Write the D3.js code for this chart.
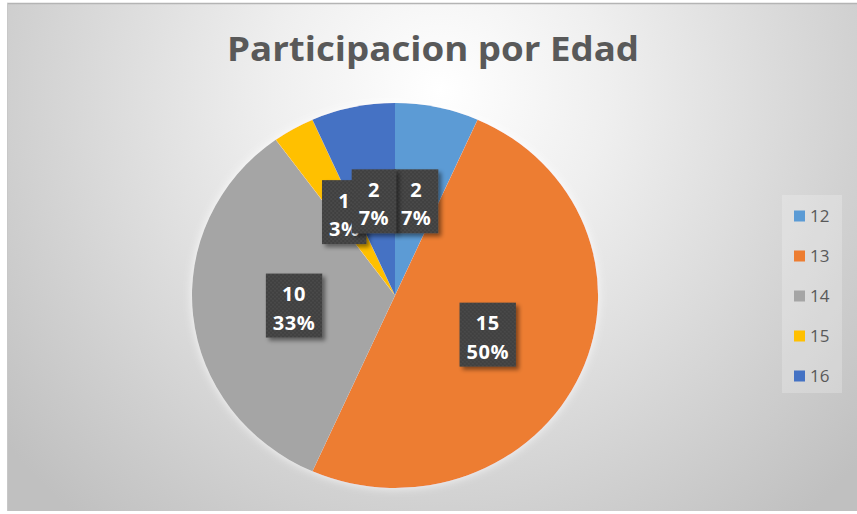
<!DOCTYPE html>
<html>
<head>
<meta charset="utf-8">
<script src="https://cdn.jsdelivr.net/npm/d3@7/dist/d3.min.js"></script>
<style>
  html, body { margin: 0; padding: 0; background: #ffffff; }
  svg { display: block; }
</style>
</head>
<body>
<svg id="chart" width="857" height="514"></svg>
<script>
const title = "Participacion por Edad";
const categories = ["12", "13", "14", "15", "16"];
const values = [2, 15, 10, 1, 2];
const colors = ["#5B9BD5", "#ED7D31", "#A5A5A5", "#FFC000", "#4472C4"];

const W = 857, H = 514;
const svg = d3.select("#chart");
const defs = svg.append("defs");

// background gradient
const rg = defs.append("radialGradient").attr("id", "bg")
  .attr("gradientUnits", "userSpaceOnUse")
  .attr("cx", 440).attr("cy", 90).attr("r", 560).attr("fx", 440).attr("fy", 90);
rg.append("stop").attr("offset", "0%").attr("stop-color", "#ffffff");
rg.append("stop").attr("offset", "30%").attr("stop-color", "#efefef");
rg.append("stop").attr("offset", "100%").attr("stop-color", "#c0c0c0");

// dotted pattern for label boxes
const pat = defs.append("pattern").attr("id", "dots")
  .attr("patternUnits", "userSpaceOnUse").attr("width", 4).attr("height", 4);
pat.append("rect").attr("width", 4).attr("height", 4).attr("fill", "#3f3f3f");
pat.append("circle").attr("cx", 1).attr("cy", 1).attr("r", 0.8).attr("fill", "#555555");
pat.append("circle").attr("cx", 3).attr("cy", 3).attr("r", 0.8).attr("fill", "#555555");

// shadow filters
const sh = defs.append("filter").attr("id", "shadow")
  .attr("x", "-30%").attr("y", "-30%").attr("width", "160%").attr("height", "160%");
sh.append("feDropShadow").attr("dx", 3).attr("dy", 3).attr("stdDeviation", 2.2)
  .attr("flood-color", "#000").attr("flood-opacity", 0.45);
const psh = defs.append("filter").attr("id", "pieShadow")
  .attr("x", "-10%").attr("y", "-10%").attr("width", "120%").attr("height", "120%");
psh.append("feDropShadow").attr("dx", 0).attr("dy", 0).attr("stdDeviation", 5)
  .attr("flood-color", "#ffffff").attr("flood-opacity", 0.8);

// frame
svg.append("rect").attr("x", 7).attr("y", 3).attr("width", W - 7).attr("height", 508)
  .attr("fill", "url(#bg)");
svg.append("line").attr("x1", 7).attr("x2", W).attr("y1", 3.5).attr("y2", 3.5)
  .attr("stroke", "#b4b4b4").attr("stroke-width", 1.5);
svg.append("line").attr("x1", 7.5).attr("x2", 7.5).attr("y1", 3).attr("y2", 511)
  .attr("stroke", "#c8c8c8").attr("stroke-width", 1);

// title
svg.append("text").attr("x", 433).attr("y", 61)
  .attr("text-anchor", "middle")
  .attr("font-family", "'Open Sans', sans-serif")
  .attr("font-weight", "bold").attr("font-size", 34)
  .attr("fill", "#595959")
  .attr("textLength", 412).attr("lengthAdjust", "spacingAndGlyphs")
  .text(title);

// pie
const cx = 395, cy = 295.5, rx = 203, ry = 192.5;
const total = d3.sum(values);
const data = categories.map((c, i) => ({ cat: c, value: values[i], color: colors[i] }));
const pie = d3.pie().value(d => d.value).sort(null);
const arcs = pie(data);
const R = rx;
const arc = d3.arc().innerRadius(0).outerRadius(R);

const pg = svg.append("g").attr("transform", `translate(${cx},${cy}) scale(1,${ry / rx})`)
  .attr("filter", "url(#pieShadow)");
pg.selectAll("path").data(arcs).join("path")
  .attr("d", arc)
  .attr("fill", d => d.data.color);

// labels
const labelArc = d3.arc().innerRadius(0).outerRadius(R);
const lg = svg.append("g");
const fontSize = 20;
arcs.forEach(a => {
  const [lx, ly0] = labelArc.centroid(a);
  const x = cx + lx, y = cy + ly0 * (ry / rx);
  const pct = Math.round(a.data.value / total * 100) + "%";
  const lines = [String(a.data.value), pct];
  const g = lg.append("g").attr("transform", `translate(${x},${y})`);
  const rect = g.append("rect");
  const texts = g.selectAll("text").data(lines).join("text")
    .attr("x", 0)
    .attr("y", (d, i) => -4.5 + i * 28.5)
    .attr("text-anchor", "middle")
    .attr("font-family", "'Open Sans', sans-serif")
    .attr("font-weight", "bold").attr("font-size", fontSize)
    .attr("letter-spacing", 0.5)
    .attr("fill", "#ffffff")
    .text(d => d);
  let maxW = 0;
  texts.each(function () { maxW = Math.max(maxW, this.getComputedTextLength()); });
  const bw = maxW + 14, bh = 64;
  rect.attr("x", -bw / 2).attr("y", -bh / 2).attr("width", bw).attr("height", bh)
    .attr("fill", "url(#dots)").attr("filter", "url(#shadow)");
});

// legend
const legX = 782, legY = 195;
svg.append("rect").attr("x", legX).attr("y", legY).attr("width", 60).attr("height", 198)
  .attr("fill", "#ffffff").attr("fill-opacity", 0.22);
const leg = svg.append("g");
const itemY = d3.scalePoint().domain(categories).range([216, 376]);
categories.forEach((c, i) => {
  const yy = itemY(c);
  leg.append("rect").attr("x", 794).attr("y", yy - 5.5).attr("width", 11).attr("height", 11)
    .attr("fill", colors[i]);
  leg.append("text").attr("x", 810).attr("y", yy + 6)
    .attr("font-family", "'Open Sans', sans-serif").attr("font-size", 17)
    .attr("fill", "#595959").text(c);
});
</script>
</body>
</html>
